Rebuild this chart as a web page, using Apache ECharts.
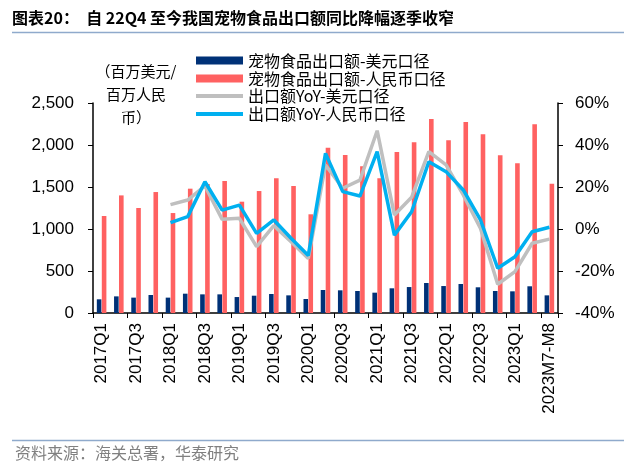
<!DOCTYPE html>
<html><head><meta charset="utf-8">
<script src="https://cdn.jsdelivr.net/npm/echarts@6/dist/echarts.min.js"></script>
<style>html,body{margin:0;padding:0;background:#fff}#c{width:640px;height:469px}</style>
</head><body><div id="c"></div>
<script>
const categories = ['2017Q1','2017Q2','2017Q3','2017Q4','2018Q1','2018Q2','2018Q3','2018Q4','2019Q1','2019Q2','2019Q3','2019Q4','2020Q1','2020Q2','2020Q3','2020Q4','2021Q1','2021Q2','2021Q3','2021Q4','2022Q1','2022Q2','2022Q3','2022Q4','2023Q1','2023Q2','2023M7-M8'];
const exportUSD = [163,198,183,214,183,230,222,222,190,206,226,210,167,274,270,262,242,294,309,357,321,345,306,262,258,318,210];
const exportRMB = [1155,1400,1250,1440,1190,1480,1535,1570,1325,1452,1603,1512,1175,1968,1881,1746,1603,1917,2032,2310,2056,2274,2127,1877,1782,2246,1540];
const yoyUSD = [null,null,null,null,11.6,13.8,20.5,4.6,5.1,-8.4,1.6,-6.1,-14.0,30.5,19.4,23.3,46.8,6.7,15.1,36.8,30.5,16.2,0.3,-26.3,-20.3,-6.8,-4.8];
const yoyRMB = [null,null,null,null,3.0,5.9,22.5,9.0,11.4,-2.1,4.3,-4.4,-12.6,36.0,17.8,15.7,36.8,-2.9,8.2,32.0,27.3,18.6,4.3,-18.7,-13.2,-1.3,0.8];
const names = ['宠物食品出口额-美元口径','宠物食品出口额-人民币口径','出口额YoY-美元口径','出口额YoY-人民币口径'];

const cjk = "'Noto Sans CJK SC', sans-serif";
const num = "'Liberation Sans', Arial, sans-serif";
const chart = echarts.init(document.getElementById('c'));
chart.setOption({
  animation: false,
  graphic: [
    {type:'text', left:12, top:10, style:{text:'图表20：  自 22Q4 至今我国宠物食品出口额同比降幅逐季收窄', font:"bold 16px "+cjk, fill:'#000'}},
    {type:'line', shape:{x1:12,y1:32.5,x2:624,y2:32.5}, style:{stroke:'#8FAACC', lineWidth:1.5}},
    {type:'line', shape:{x1:12,y1:440.5,x2:624,y2:440.5}, style:{stroke:'#8FAACC', lineWidth:1.5}},
    {type:'text', left:15, top:445, style:{text:'资料来源：海关总署，华泰研究', font:"16px "+cjk, fill:'#808080'}},
    {type:'text', x:136, y:60, style:{text:'（百万美元/\n百万人民\n币）', font:"15px "+cjk, fill:'#000', align:'center', lineHeight:23}}
  ],
  legend: [
    {data:[names[0],names[1]], orient:'vertical', left:191, top:46.5, itemWidth:47, itemHeight:8, itemGap:0, icon:'rect',
     textStyle:{fontFamily:cjk, fontSize:16, color:'#000', lineHeight:18}},
    {data:[names[2],names[3]], orient:'vertical', left:191, top:82, itemWidth:47, itemHeight:4, itemGap:0, icon:'rect',
     textStyle:{fontFamily:cjk, fontSize:16, color:'#000', lineHeight:18}}
  ],
  grid: {left:93, right:82, top:103, bottom:156, containLabel:false},
  xAxis: {
    type:'category', data:categories, boundaryGap:true,
    axisLine:{lineStyle:{color:'#000', width:1.5}},
    axisTick:{show:true, alignWithLabel:false, length:5, lineStyle:{color:'#000'}},
    axisLabel:{interval:1, rotate:90, margin:10, fontFamily:num, fontSize:17, color:'#000'}
  },
  yAxis: [
    {type:'value', min:0, max:2500, interval:500, splitLine:{show:false},
     axisLine:{show:true, lineStyle:{color:'#000', width:1.5}},
     axisTick:{show:true, length:5, lineStyle:{color:'#000'}},
     axisLabel:{margin:19, fontFamily:num, fontSize:17, color:'#000', formatter:v=>v.toLocaleString('en-US')}},
    {type:'value', min:-40, max:60, interval:20, splitLine:{show:false},
     axisLine:{show:true, lineStyle:{color:'#000', width:1.5}},
     axisTick:{show:true, length:5, lineStyle:{color:'#000'}},
     axisLabel:{margin:17, fontFamily:num, fontSize:17, color:'#000', formatter:'{value}%'}}
  ],
  series: [
    {name:names[0], type:'bar', data:exportUSD, barWidth:4.6, barGap:'8%', itemStyle:{color:'#003177'}},
    {name:names[1], type:'bar', data:exportRMB, barWidth:4.6, itemStyle:{color:'#FF6161'}},
    {name:names[2], type:'line', yAxisIndex:1, data:yoyUSD, showSymbol:false, symbol:'none', itemStyle:{color:'#BFBFBF'}, lineStyle:{color:'#BFBFBF', width:3.5}},
    {name:names[3], type:'line', yAxisIndex:1, data:yoyRMB, showSymbol:false, symbol:'none', itemStyle:{color:'#00B0F0'}, lineStyle:{color:'#00B0F0', width:3.5}}
  ]
});
</script></body></html>
